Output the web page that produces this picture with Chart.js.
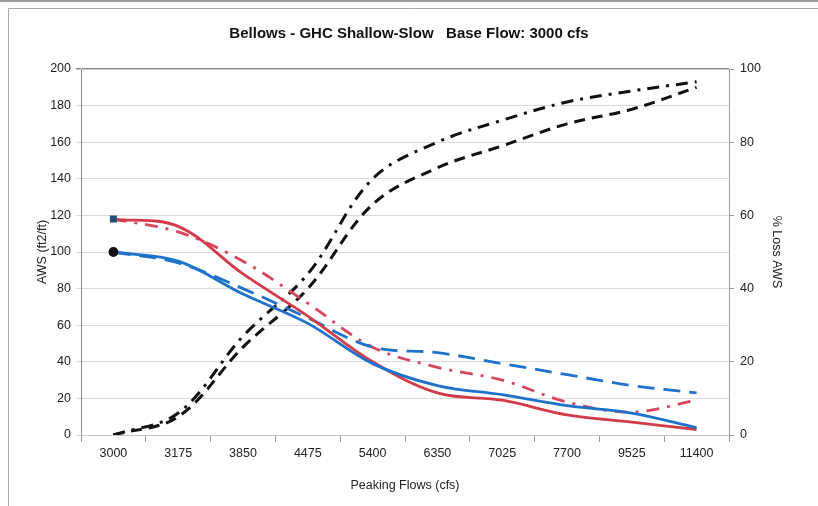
<!DOCTYPE html>
<html>
<head>
<meta charset="utf-8">
<script src="https://cdn.jsdelivr.net/npm/chart.js@4/dist/chart.umd.min.js"></script>
<style>
  html, body { margin: 0; padding: 0; background: #fff; }
  #wrap { width: 818px; height: 506px; }
</style>
</head>
<body>
<div id="wrap"><canvas id="myChart" width="818" height="506"></canvas></div>
<script>
// peaking flow categories (cfs)
const flows = ['3000', '3175', '3850', '4475', '5400', '6350', '7025', '7700', '9525', '11400'];

// AWS (ft2/ft), left axis
const awsBlueSolid = [100, 95, 77, 61, 39, 27, 22, 16, 12, 4];
const awsRedSolid = [118, 114, 88, 65, 40, 23, 19, 11, 7, 3];
const awsBlueDash = [100, 94, 80, 64, 48, 45, 39, 33, 27, 23];
const awsRedDashDot = [118, 111, 95, 72, 48, 37, 30, 18, 12.5, 19];

// % loss AWS, right axis
const lossDash = [0, 5, 24, 40, 63, 73, 79, 85, 89, 95];
const lossDashDot = [0, 6, 27, 44, 70, 80, 86, 91, 94, 96.5];

const leftTicks = [0, 20, 40, 60, 80, 100, 120, 140, 160, 180, 200];
const rightTicks = [0, 20, 40, 60, 80, 100];

const BLUE = '#1f72cc';
const RED = '#d23c48';
const RED2 = '#d8465e';
const BLACK = '#111111';
const FONT = 'Liberation Sans, Arial, sans-serif';

const firstOnly = (r) => flows.map((f, i) => i === 0 ? r : 0);

// outer frame like the pasted excel chart
const framePlugin = {
  id: 'frame',
  beforeDraw(chart) {
    const c = chart.ctx;
    c.save();
    c.fillStyle = '#fff';
    c.fillRect(0, 0, chart.width, chart.height);
    c.strokeStyle = '#9a9a9a';
    c.lineWidth = 2;
    c.beginPath();
    c.moveTo(0, 1);
    c.lineTo(chart.width, 1);
    c.stroke();
    c.strokeStyle = '#a8a8a8';
    c.lineWidth = 1;
    c.beginPath();
    c.moveTo(8.5, chart.height);
    c.lineTo(8.5, 8.5);
    c.lineTo(chart.width, 8.5);
    c.stroke();
    c.restore();
  }
};

const fixSize = (w, h) => (scale) => {
  if (w != null) scale.width = w;
  if (h != null) scale.height = h;
  scale.paddingLeft = 0; scale.paddingRight = 0;
  scale.paddingTop = 0; scale.paddingBottom = 0;
};

const ctx = document.getElementById('myChart');

new Chart(ctx, {
  type: 'line',
  data: {
    labels: flows,
    datasets: [
      {
        label: 'AWS blue',
        data: awsBlueSolid,
        yAxisID: 'y',
        borderColor: BLUE,
        borderWidth: 2.8,
        pointRadius: firstOnly(3.5),
        pointBackgroundColor: BLACK,
        pointBorderColor: BLACK,
        pointStyle: 'circle',
        tension: 0.35
      },
      {
        label: 'AWS red',
        data: awsRedSolid,
        yAxisID: 'y',
        borderColor: RED,
        borderWidth: 2.8,
        pointRadius: firstOnly(3),
        pointBackgroundColor: '#1f4e79',
        pointBorderColor: '#1f4e79',
        pointStyle: 'rect',
        tension: 0.35
      },
      {
        label: 'AWS blue dash',
        data: awsBlueDash,
        yAxisID: 'y',
        borderColor: BLUE,
        borderWidth: 2.8,
        borderDash: [17, 9],
        pointRadius: 0,
        tension: 0.35
      },
      {
        label: 'AWS red dashdot',
        data: awsRedDashDot,
        yAxisID: 'y',
        borderColor: RED2,
        borderWidth: 2.8,
        borderDash: [13, 8, 3, 8],
        pointRadius: 0,
        tension: 0.35
      },
      {
        label: 'Loss dash',
        data: lossDash,
        yAxisID: 'y1',
        borderColor: BLACK,
        borderWidth: 3,
        borderDash: [11, 7],
        pointRadius: 0,
        tension: 0.35
      },
      {
        label: 'Loss dashdot',
        data: lossDashDot,
        yAxisID: 'y1',
        borderColor: BLACK,
        borderWidth: 3,
        borderDash: [12, 7, 3, 7],
        pointRadius: 0,
        tension: 0.35
      }
    ]
  },
  options: {
    responsive: false,
    animation: false,
    layout: { padding: 0 },
    plugins: {
      legend: { display: false },
      tooltip: { enabled: false },
      title: {
        display: true,
        text: 'Bellows - GHC Shallow-Slow   Base Flow: 3000 cfs',
        color: '#111',
        font: { family: FONT, size: 15, weight: 'bold', lineHeight: 1.2 },
        padding: { top: 25, bottom: 26 }
      }
    },
    scales: {
      x: {
        offset: true,
        afterFit: fixSize(null, 71),
        border: { color: '#c8c8c8', width: 1 },
        grid: { offset: true, drawOnChartArea: false, tickLength: 7, color: '#9a9a9a' },
        ticks: {
          color: '#222', padding: 4, maxRotation: 0, autoSkip: false,
          font: { family: FONT, size: 12.5 }
        },
        title: {
          display: true, text: 'Peaking Flows (cfs)', color: '#222',
          font: { family: FONT, size: 12.5 },
          padding: { top: 0, bottom: 13 }
        }
      },
      y: {
        position: 'left',
        min: 0, max: 200,
        afterFit: fixSize(81, null),
        afterBuildTicks: (s) => { s.ticks = leftTicks.map(v => ({ value: v })); },
        border: { color: '#8c8c8c', width: 1 },
        grid: {
          tickLength: 5,
          color: (c) => c.tick && c.tick.value === 200 ? '#8c8c8c' : '#dadada',
          lineWidth: (c) => c.tick && c.tick.value === 200 ? 1.5 : 1
        },
        ticks: { color: '#222', padding: 5, font: { family: FONT, size: 12.5 } },
        title: {
          display: true, text: 'AWS (ft2/ft)', color: '#222',
          font: { family: FONT, size: 12.5 },
          padding: { top: 35, bottom: 0 }
        }
      },
      y1: {
        position: 'right',
        min: 0, max: 100,
        afterFit: fixSize(89, null),
        afterBuildTicks: (s) => { s.ticks = rightTicks.map(v => ({ value: v })); },
        border: { color: '#9a9a9a', width: 1 },
        grid: { drawOnChartArea: false, tickLength: 5, color: '#9a9a9a' },
        ticks: { color: '#222', padding: 6, font: { family: FONT, size: 12.5 } },
        title: {
          display: true, text: '% Loss AWS', color: '#222',
          font: { family: FONT, size: 12.5 },
          padding: { top: 34.5, bottom: 0 }
        }
      }
    }
  },
  plugins: [framePlugin]
});
</script>
</body>
</html>
